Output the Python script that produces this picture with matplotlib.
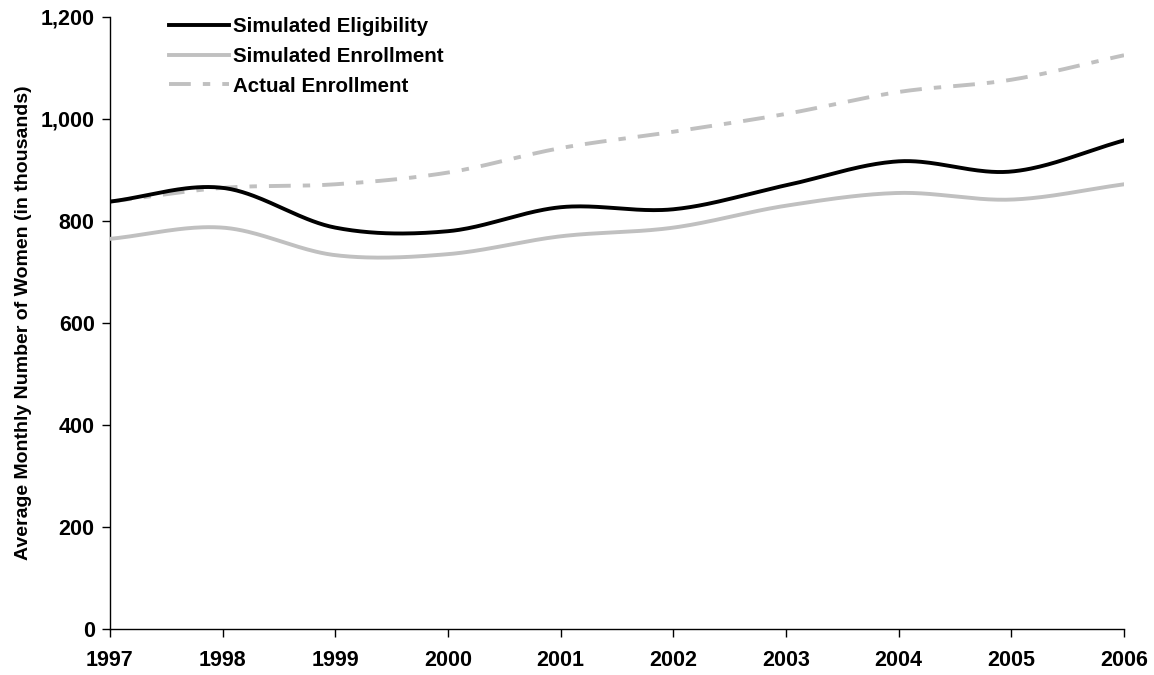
import numpy as np
import matplotlib
matplotlib.use("Agg")
import matplotlib.pyplot as plt
from matplotlib.ticker import FuncFormatter

plt.rcParams['font.family'] = ['Liberation Sans', 'DejaVu Sans']
plt.rcParams['font.weight'] = 'bold'

years = [1997, 1998, 1999, 2000, 2001, 2002, 2003, 2004, 2005, 2006]
sim_elig = [838, 865, 787, 780, 827, 823, 870, 917, 897, 958]
sim_enroll = [765, 787, 733, 735, 770, 787, 830, 855, 842, 872]
actual_enroll = [838, 865, 872, 895, 943, 975, 1010, 1053, 1077, 1125]


def smooth(x, y, n=40):
    x = np.asarray(x, float)
    y = np.asarray(y, float)
    px = np.concatenate([[2 * x[0] - x[1]], x, [2 * x[-1] - x[-2]]])
    py = np.concatenate([[2 * y[0] - y[1]], y, [2 * y[-1] - y[-2]]])
    xs, ys = [], []
    for i in range(1, len(px) - 2):
        t = np.linspace(0, 1, n, endpoint=False)
        for arr, out in ((px, xs), (py, ys)):
            p0, p1, p2, p3 = arr[i - 1], arr[i], arr[i + 1], arr[i + 2]
            m1 = (p2 - p0) / 2.0
            m2 = (p3 - p1) / 2.0
            h00 = 2 * t**3 - 3 * t**2 + 1
            h10 = t**3 - 2 * t**2 + t
            h01 = -2 * t**3 + 3 * t**2
            h11 = t**3 - t**2
            out.extend(h00 * p1 + h10 * m1 + h01 * p2 + h11 * m2)
    xs.append(x[-1])
    ys.append(y[-1])
    return np.array(xs), np.array(ys)


fig = plt.figure(figsize=(11.54, 6.75), dpi=100)
ax = fig.add_axes([110 / 1154, 1 - 629 / 675, (1124 - 110) / 1154, (629 - 17) / 675])

x, y = smooth(years, actual_enroll)
ax.plot(x, y, color='#c0c0c0', lw=2.8, dashes=(5.6, 3.1, 1.9, 3.1), label='Actual Enrollment', zorder=2)
x, y = smooth(years, sim_enroll)
ax.plot(x, y, color='#c0c0c0', lw=2.8, label='Simulated Enrollment', zorder=3)
x, y = smooth(years, sim_elig)
ax.plot(x, y, color='black', lw=2.8, label='Simulated Eligibility', zorder=4)

ax.set_xlim(1997, 2006)
ax.set_ylim(0, 1200)
ax.set_xticks(years)
ax.set_yticks(range(0, 1201, 200))
ax.yaxis.set_major_formatter(FuncFormatter(lambda v, p: f"{int(v):,}"))
for s in ('top', 'right'):
    ax.spines[s].set_visible(False)
for s in ('left', 'bottom'):
    ax.spines[s].set_linewidth(1.0)
ax.tick_params(axis='both', direction='out', length=6, width=1, labelsize=15.5, pad=5)
ax.tick_params(axis='x', pad=9)
ax.set_ylabel('Average Monthly Number of Women (in thousands)', fontsize=14, fontweight='bold', labelpad=6)

handles, labels = ax.get_legend_handles_labels()
order = [2, 1, 0]
ax.legend([handles[i] for i in order], [labels[i] for i in order], loc='upper left',
          bbox_to_anchor=(0.04, 1.03), frameon=False, fontsize=14.8, handlelength=2.9,
          handletextpad=0.2, labelspacing=0.52)

fig.savefig('out.png', dpi=100)
